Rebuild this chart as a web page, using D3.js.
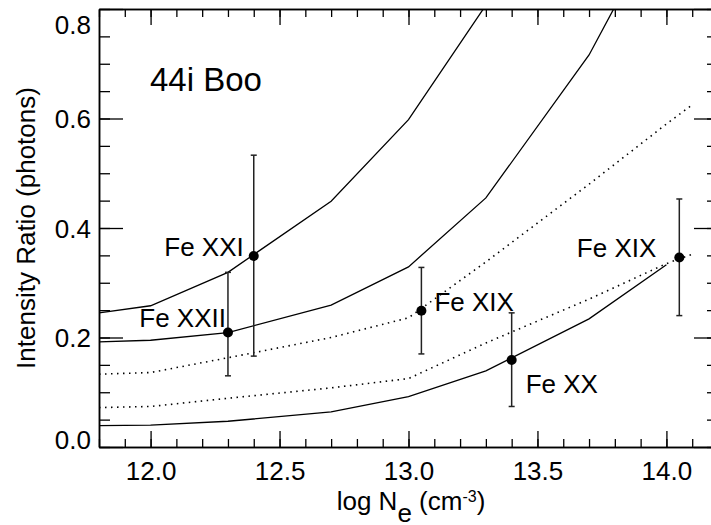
<!DOCTYPE html>
<meta charset="utf-8">
<script src="https://d3js.org/d3.v7.min.js"></script>
<style>
  body { margin: 0; background: #fff; }
  text { font-family: "Liberation Sans", Arial, Helvetica, sans-serif; fill: #000; }
</style>
<svg id="chart"></svg>
<script>
// density grid (log Ne) of the model curves
var gridSolid = [11.8, 12.0, 12.3, 12.7, 13.0, 13.3, 13.7, 14.0];
var gridDotted = [11.8, 12.0, 12.3, 12.7, 13.0, 13.3, 13.7, 14.0, 14.1];

// model ratios, solid curves (null = not drawn)
var curveFe21 = [0.245, 0.258, 0.319, 0.449, 0.598, 0.807, null, null];
var curveFe22 = [0.192, 0.195, 0.209, 0.259, 0.329, 0.455, 0.716, 0.98];
var curveFe20 = [0.039, 0.040, 0.047, 0.064, 0.092, 0.139, 0.234, 0.333];
// dotted curves
var curveFe19a = [0.133, 0.136, 0.163, 0.200, 0.236, 0.338, 0.480, 0.590, 0.625];
var curveFe19b = [0.072, 0.074, 0.089, 0.108, 0.125, 0.190, 0.270, 0.335, 0.352];

// measured ratios with error bars
var pointLabels = ["Fe XXII", "Fe XXI", "Fe XIX", "Fe XX", "Fe XIX"];
var pointNe     = [12.3, 12.4, 13.05, 13.4, 14.05];
var pointRatio  = [0.209, 0.349, 0.249, 0.159, 0.346];
var pointLow    = [0.130, 0.166, 0.170, 0.074, 0.240];
var pointHigh   = [0.319, 0.533, 0.328, 0.245, 0.453];

var xTicks = [12.0, 12.5, 13.0, 13.5, 14.0];
var yTicks = [0.0, 0.2, 0.4, 0.6, 0.8];

// label placement relative to each point (pixels)
var labelPos = [
  {anchor: "end",   dx: -2,  dy: -6},
  {anchor: "end",   dx: -10, dy: 0},
  {anchor: "start", dx: 13,  dy: 0},
  {anchor: "start", dx: 14,  dy: 33},
  {anchor: "end",   dx: -23, dy: -1}
];

var width = 711, height = 525;
var mLeft = 99, mRight = 718, mTop = 9, mBottom = 447;
var fontSize = 26;

var svg = d3.select("#chart").attr("width", width).attr("height", height);

var x = d3.scaleLinear().domain([11.8, 14.2]).range([mLeft, mRight]);
var y = d3.scaleLinear().domain([0, 0.8]).range([mBottom, mTop]);

svg.append("clipPath").attr("id", "plotclip")
  .append("rect").attr("x", mLeft).attr("y", mTop)
  .attr("width", mRight - mLeft).attr("height", mBottom - mTop);

// minor tick positions
function minor(lo, hi, step) {
  return d3.range(Math.round(lo / step), Math.round(hi / step) + 1).map(function (k) { return +(k * step).toFixed(3); });
}
var xMinor = minor(11.8, 14.2, 0.1);
var yMinor = minor(0, 0.8, 0.05);

// bottom
svg.append("g").attr("transform", "translate(0," + mBottom + ")")
  .call(d3.axisBottom(x).tickValues(xMinor).tickFormat("").tickSizeInner(-8).tickSizeOuter(0));
svg.append("g").attr("class", "xmaj").attr("transform", "translate(0," + mBottom + ")")
  .call(d3.axisBottom(x).tickValues(xTicks).tickFormat(d3.format(".1f")).tickSizeInner(-16).tickSizeOuter(0).tickPadding(15));
// top
svg.append("g").attr("transform", "translate(0," + mTop + ")")
  .call(d3.axisTop(x).tickValues(xMinor).tickFormat("").tickSizeInner(-8).tickSizeOuter(0));
svg.append("g").attr("transform", "translate(0," + mTop + ")")
  .call(d3.axisTop(x).tickValues(xTicks).tickFormat("").tickSizeInner(-16).tickSizeOuter(0));
// left
svg.append("g").attr("transform", "translate(" + mLeft + ",0)")
  .call(d3.axisLeft(y).tickValues(yMinor).tickFormat("").tickSizeInner(-11).tickSizeOuter(0));
svg.append("g").attr("class", "ymaj").attr("transform", "translate(" + mLeft + ",0)")
  .call(d3.axisLeft(y).tickValues(yTicks).tickFormat(d3.format(".1f")).tickSizeInner(-24).tickSizeOuter(0).tickPadding(8));
// right
svg.append("g").attr("transform", "translate(" + mRight + ",0)")
  .call(d3.axisRight(y).tickValues(yMinor).tickFormat("").tickSizeInner(-11).tickSizeOuter(0));
svg.append("g").attr("transform", "translate(" + mRight + ",0)")
  .call(d3.axisRight(y).tickValues(yTicks).tickFormat("").tickSizeInner(-24).tickSizeOuter(0));

svg.selectAll(".domain").attr("stroke", "#000").attr("stroke-width", 1.5);
svg.selectAll(".tick line").attr("stroke", "#000").attr("stroke-width", 1.3);
svg.selectAll(".tick text")
  .style("font-family", "'Liberation Sans', Arial, sans-serif")
  .attr("font-size", fontSize).attr("fill", "#000");

// keep the end y labels inside the frame like the original
svg.selectAll(".ymaj .tick text").attr("dy", function (d) {
  if (d === 0.8) return "0.95em";
  if (d === 0.0) return "0.05em";
  return "0.35em";
});

// model curves
var plot = svg.append("g").attr("clip-path", "url(#plotclip)");
function drawCurve(grid, vals, dotted) {
  var pts = grid.map(function (g, i) { return [g, vals[i]]; });
  var line = d3.line()
    .defined(function (d) { return d[1] !== null; })
    .x(function (d) { return x(d[0]); })
    .y(function (d) { return y(d[1]); });
  plot.append("path").datum(pts)
    .attr("d", line)
    .attr("fill", "none")
    .attr("stroke", "#000")
    .attr("stroke-width", dotted ? 1.6 : 1.3)
    .attr("stroke-dasharray", dotted ? "1.5,4.5" : null);
}
drawCurve(gridSolid, curveFe21, false);
drawCurve(gridSolid, curveFe22, false);
drawCurve(gridSolid, curveFe20, false);
drawCurve(gridDotted, curveFe19a, true);
drawCurve(gridDotted, curveFe19b, true);

// error bars and points
var marks = svg.append("g");
pointNe.forEach(function (ne, i) {
  var px = x(ne);
  marks.append("line").attr("x1", px).attr("x2", px)
    .attr("y1", y(pointLow[i])).attr("y2", y(pointHigh[i]))
    .attr("stroke", "#222").attr("stroke-width", 1.5);
  [pointLow[i], pointHigh[i]].forEach(function (v) {
    marks.append("line").attr("x1", px - 3).attr("x2", px + 3)
      .attr("y1", y(v)).attr("y2", y(v))
      .attr("stroke", "#222").attr("stroke-width", 1.5);
  });
  marks.append("circle").attr("cx", px).attr("cy", y(pointRatio[i])).attr("r", 5).attr("fill", "#000");
  marks.append("text")
    .attr("x", px + labelPos[i].dx)
    .attr("y", y(pointRatio[i]) + labelPos[i].dy)
    .attr("text-anchor", labelPos[i].anchor)
    .attr("font-size", fontSize)
    .text(pointLabels[i]);
});

// star name
svg.append("text").attr("x", 150).attr("y", 91).attr("font-size", 33).text("44i Boo");

// axis titles
var xt = svg.append("text").attr("x", 411).attr("y", 510)
  .attr("text-anchor", "middle").attr("font-size", fontSize);
xt.append("tspan").text("log N");
xt.append("tspan").attr("dy", 12).text("e");
xt.append("tspan").attr("dy", -12).text(" (cm");
xt.append("tspan").attr("dy", -8).attr("font-size", 16).text("-3");
xt.append("tspan").attr("dy", 8).text(")");

svg.append("text")
  .attr("transform", "translate(35," + ((mTop + mBottom) / 2) + ") rotate(-90)")
  .attr("text-anchor", "middle").attr("font-size", fontSize)
  .text("Intensity Ratio (photons)");
</script>
